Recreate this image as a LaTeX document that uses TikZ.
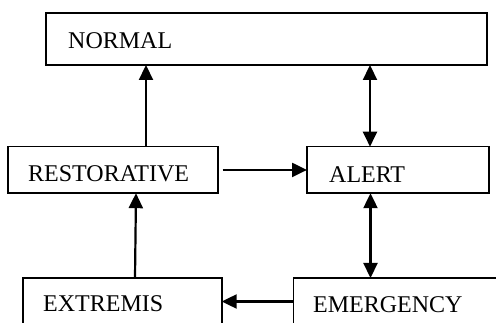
\documentclass[tikz,border=0pt]{standalone}
\usepackage{fontspec}
\setmainfont{Liberation Serif}
\usetikzlibrary{arrows.meta}
\tikzset{
  box/.style={draw, line width=1.6pt, rectangle, inner sep=0pt, outer sep=0pt, anchor=north west},
  lbl/.style={anchor=base west, inner sep=0pt, font=\fontsize{24}{28}\selectfont},
  tip/.style={},
  arr/.style={line width=2.2pt, -{Triangle[length=15pt,width=14pt]}},
  darr/.style={line width=2.2pt, {Triangle[length=15pt,width=14pt]}-{Triangle[length=15pt,width=14pt]}}
}
\begin{document}
\begin{tikzpicture}[x=1pt,y=-1pt]
\useasboundingbox (0,0) rectangle (496,323);
\clip (0,0) rectangle (496,323);
\fill[white] (0,0) rectangle (496,323);
% boxes
\node[box, minimum width=441pt, minimum height=52pt] (normal) at (46,13) {};
\node[box, minimum width=210pt, minimum height=46.5pt] (restorative) at (8,146.7) {};
\node[box, minimum width=182pt, minimum height=46.5pt] (alert) at (307,146.7) {};
\node[box, minimum width=199pt, minimum height=47pt] (extremis) at (22.7,278) {};
\node[box, minimum width=210pt, minimum height=47pt] (emergency) at (293.3,278) {};
% labels
\node[lbl] (normalt) at (68,48.3) {NORMAL};
\node[lbl] (restorativet) at (28,182) {RESTORATIVE};
\node[lbl] (alertt) at (329,183) {ALERT};
\node[lbl] (extremist) at (43,312) {EXTREMIS};
\node[lbl] (emergencyt) at (313,312.3) {EMERGENCY};
% connectors
\coordinate (rn) at ([xshift=138pt]restorative.north west);
\draw[arr] (rn) -- (rn |- normal.south);
\coordinate (an) at ([xshift=63pt]alert.north west);
\draw[darr] (an |- normal.south) -- (an);
\coordinate (re) at ([xshift=4.7pt]restorative.east);
\draw[arr] (re) -- (re -| alert.west);
\coordinate (as) at ([xshift=63.5pt]alert.south west);
\draw[darr] (as) -- (as |- emergency.north);
\coordinate (xn) at ([xshift=112.3pt]extremis.north west);
\coordinate (rs) at ([xshift=128pt]restorative.south west);
\draw[arr] (xn) -- (rs);
\draw[arr] (emergency.west) -- (emergency.west -| extremis.east);
\end{tikzpicture}
\end{document}
